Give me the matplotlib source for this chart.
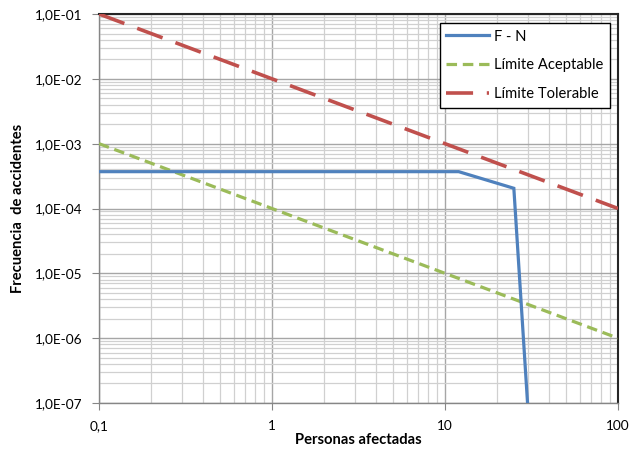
import matplotlib
matplotlib.use("Agg")
import matplotlib.pyplot as plt
from matplotlib.ticker import FixedLocator, LogLocator, NullFormatter

plt.rcParams['font.family'] = ['Lato', 'DejaVu Sans']

# F-N curve
fn_x = [0.1, 12, 25, 30]
fn_y = [3.7e-4, 3.7e-4, 2.05e-4, 1e-7]
# Límite aceptable
acc_x = [0.1, 100]
acc_y = [1e-3, 1e-6]
# Límite tolerable
tol_x = [0.1, 100]
tol_y = [1e-1, 1e-4]

x_ticks = [0.1, 1, 10, 100]
x_labels = ["0,1", "1", "10", "100"]
y_ticks = [1e-7, 1e-6, 1e-5, 1e-4, 1e-3, 1e-2, 1e-1]
y_labels = ["1,0E-07", "1,0E-06", "1,0E-05", "1,0E-04", "1,0E-03", "1,0E-02", "1,0E-01"]

fig = plt.figure(figsize=(6.29, 4.51), dpi=100)
ax = fig.add_axes([99/629, 1-403/451, (618-99)/629, (403-14)/451])
ax.set_xscale('log')
ax.set_yscale('log')
ax.set_xlim(0.1, 100)
ax.set_ylim(1e-7, 1e-1)

ax.plot(fn_x, fn_y, color='#4F81BD', lw=2.3, label='F - N', zorder=5, solid_joinstyle='miter')
ax.plot(acc_x, acc_y, color='#9BBB59', lw=2.3, dashes=(3.3, 1.8), label='Límite Aceptable', zorder=4)
ax.plot(tol_x, tol_y, color='#C0504D', lw=2.6, dashes=(7.5, 3.8), label='Límite Tolerable', zorder=4)

ax.xaxis.set_major_locator(FixedLocator(x_ticks))
ax.set_xticklabels(x_labels)
ax.yaxis.set_major_locator(FixedLocator(y_ticks))
ax.set_yticklabels(y_labels)
ax.xaxis.set_minor_locator(LogLocator(base=10, subs=range(2, 10), numticks=20))
ax.yaxis.set_minor_locator(LogLocator(base=10, subs=range(2, 10), numticks=20))
ax.xaxis.set_minor_formatter(NullFormatter())
ax.yaxis.set_minor_formatter(NullFormatter())

ax.grid(which='major', color='#A6A6A6', lw=1.0, zorder=0)
ax.grid(which='minor', color='#D0D0D0', lw=0.9, zorder=0)
ax.set_axisbelow(True)

ax.tick_params(which='major', direction='out', length=5, color='#868686', labelsize=9.8, pad=7)
ax.tick_params(which='minor', length=0)

for s in ['left', 'bottom']:
    ax.spines[s].set_color('#868686')
    ax.spines[s].set_linewidth(1.0)
for s in ['top', 'right']:
    ax.spines[s].set_color('#262626')
    ax.spines[s].set_linewidth(1.5)

ax.set_xlabel('Personas afectadas', fontsize=10.6, fontweight='bold', labelpad=1)
ax.set_ylabel('Frecuencia  de accidentes', fontsize=10.6, fontweight='bold', labelpad=7)

leg = ax.legend(loc='upper right', bbox_to_anchor=(0.9846, 0.9769), borderaxespad=0,
                fontsize=10.6, fancybox=False, framealpha=1, edgecolor='black',
                borderpad=0.45, handlelength=2.9, labelspacing=1.0, handletextpad=0.35)
leg.get_frame().set_linewidth(1.0)

fig.savefig('out.png', dpi=100)
